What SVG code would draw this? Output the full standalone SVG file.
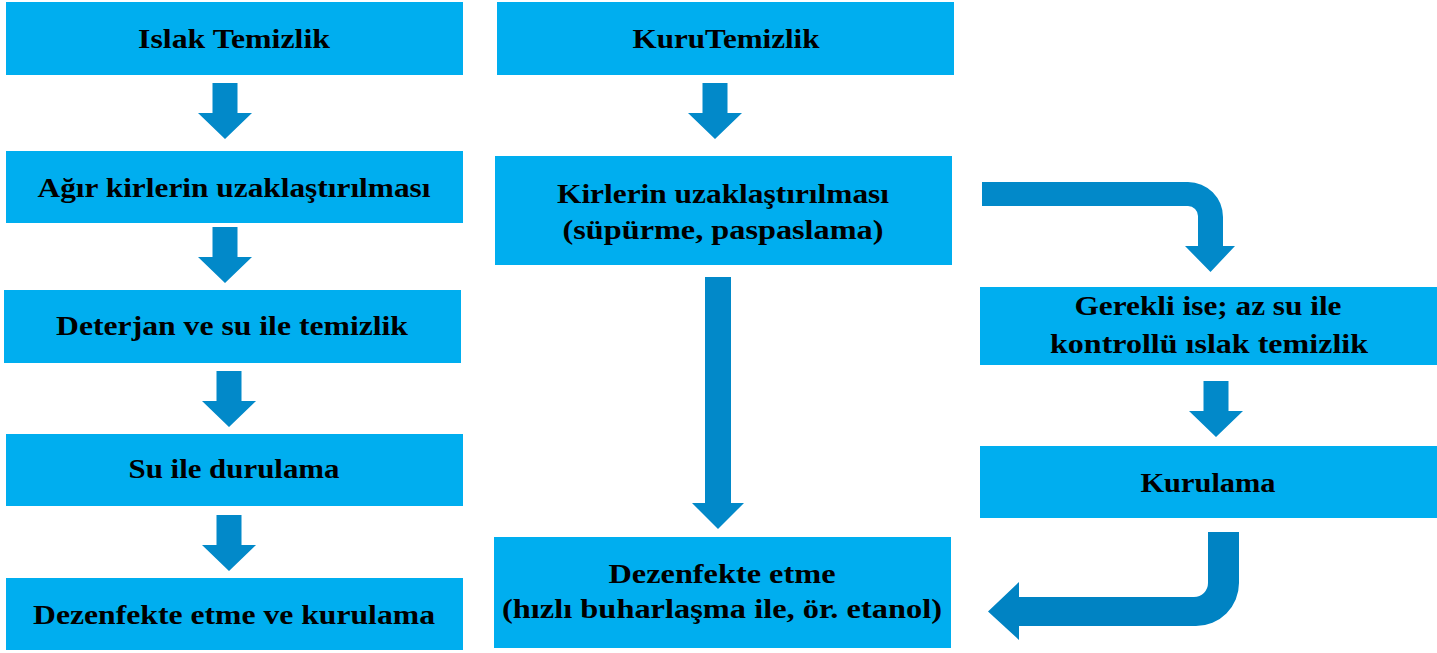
<svg xmlns="http://www.w3.org/2000/svg" width="1437" height="653" viewBox="0 0 1437 653">
<style>
.box{fill:#00AEEF}
.arr{fill:#0289C9}
text{font-family:"Liberation Serif","Times New Roman",serif;font-weight:bold;font-size:28px;fill:#000;text-anchor:middle}
</style>
<defs>
<path id="dn" d="M-12.5 0 H12.5 V30 H27 L0 56 L-27 30 H-12.5 Z"/>
</defs>
<rect width="1437" height="653" fill="#fff"/>
<g id="n1"><rect class="box" x="6" y="2" width="457" height="73"/><text x="234" y="48" textLength="192" lengthAdjust="spacingAndGlyphs">Islak Temizlik</text></g>
<g id="n2"><rect class="box" x="6" y="151" width="457" height="72"/><text x="234" y="197" textLength="393" lengthAdjust="spacingAndGlyphs">Ağır kirlerin uzaklaştırılması</text></g>
<g id="n3"><rect class="box" x="4" y="290" width="457" height="73"/><text x="232" y="335" textLength="352" lengthAdjust="spacingAndGlyphs">Deterjan ve su ile temizlik</text></g>
<g id="n4"><rect class="box" x="6" y="434" width="457" height="72"/><text x="234" y="478" textLength="211" lengthAdjust="spacingAndGlyphs">Su ile durulama</text></g>
<g id="n5"><rect class="box" x="6" y="578" width="457" height="72"/><text x="234" y="624" textLength="402" lengthAdjust="spacingAndGlyphs">Dezenfekte etme ve kurulama</text></g>
<g id="n6"><rect class="box" x="497" y="2" width="457" height="73"/><text x="726" y="48" textLength="187" lengthAdjust="spacingAndGlyphs">KuruTemizlik</text></g>
<g id="n7"><rect class="box" x="495" y="156" width="457" height="109"/><text x="723" y="203" textLength="332" lengthAdjust="spacingAndGlyphs">Kirlerin uzaklaştırılması</text><text x="723" y="239" textLength="321" lengthAdjust="spacingAndGlyphs">(süpürme, paspaslama)</text></g>
<g id="n8"><rect class="box" x="494" y="537" width="457" height="111"/><text x="722" y="583" textLength="227" lengthAdjust="spacingAndGlyphs">Dezenfekte etme</text><text x="722" y="618" textLength="440" lengthAdjust="spacingAndGlyphs">(hızlı buharlaşma ile, ör. etanol)</text></g>
<g id="n9"><rect class="box" x="980" y="287" width="457" height="78"/><text x="1208" y="315" textLength="267" lengthAdjust="spacingAndGlyphs">Gerekli ise; az su ile</text><text x="1209" y="353" textLength="318" lengthAdjust="spacingAndGlyphs">kontrollü ıslak temizlik</text></g>
<g id="n10"><rect class="box" x="980" y="446" width="457" height="72"/><text x="1208" y="492" textLength="135" lengthAdjust="spacingAndGlyphs">Kurulama</text></g>
<g id="connectors">
<use href="#dn" class="arr" x="225" y="83"/>
<use href="#dn" class="arr" x="225" y="227"/>
<use href="#dn" class="arr" x="229" y="371"/>
<use href="#dn" class="arr" x="229" y="515"/>
<use href="#dn" class="arr" x="715" y="83"/>
<use href="#dn" class="arr" x="1216" y="381"/>
<path class="arr" d="M705 277 H731 V503 H744 L718 529 L692 503 H705 Z"/>
<path class="arr" d="M982 182 H1188 A35 35 0 0 1 1223 217 V246 H1235 L1210.5 272 L1185 246 H1198 V216 A10 10 0 0 0 1188 206 H982 Z"/>
<path class="arr" style="fill:#0083C3" d="M1208 532 H1239 V583 A43 43 0 0 1 1196 626 H1019 V640 L988 611.5 L1019 582 V597 H1194 A14 14 0 0 0 1208 583 Z"/>
</g>
</svg>
